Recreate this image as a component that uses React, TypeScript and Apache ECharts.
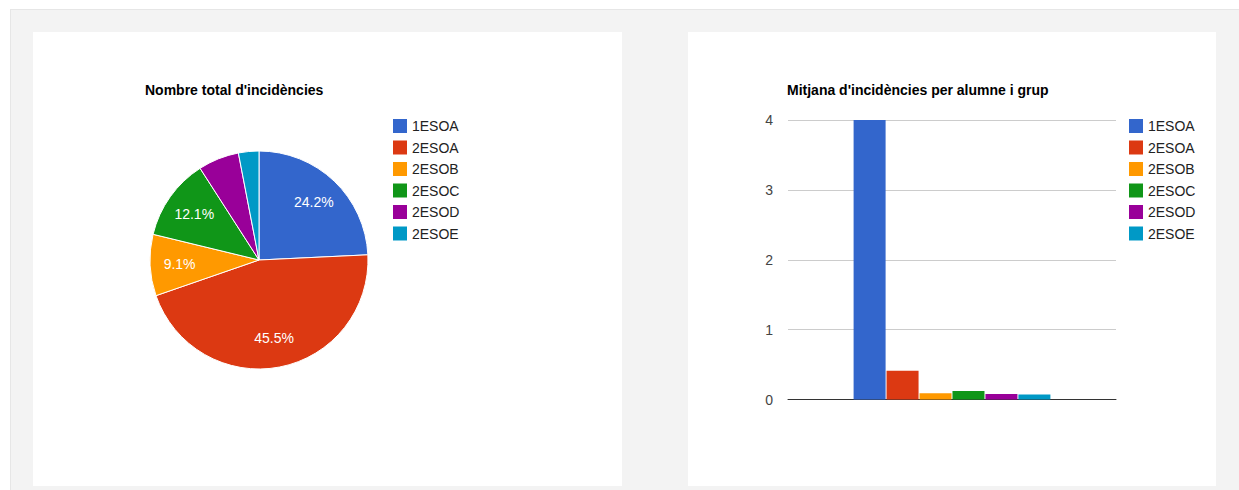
import React, { useEffect, useRef } from "react";
import * as echarts from "echarts";

const groups = ["1ESOA", "2ESOA", "2ESOB", "2ESOC", "2ESOD", "2ESOE"];
const colors = ["#3366cc", "#dc3912", "#ff9900", "#109618", "#990099", "#0099c6"];
const totalIncidences = [8, 15, 3, 4, 2, 1];
const averagePerStudent = [4, 0.41, 0.09, 0.12, 0.08, 0.07];
const yTicks = [0, 1, 2, 3, 4];

const FONT = "Arial, 'Liberation Sans', sans-serif";

export default function App() {
  const ref = useRef<HTMLDivElement>(null);
  useEffect(() => {
    if (!ref.current) return;
    const chart = echarts.init(ref.current, undefined, { renderer: "svg" });
    const total = totalIncidences.reduce((a, b) => a + b, 0);
    const legendData = groups.map((g, i) => ({ name: g, itemStyle: { color: colors[i] } }));
    const legendCommon = {
      orient: "vertical",
      top: 119,
      padding: 0,
      itemWidth: 14,
      itemHeight: 14,
      itemGap: 7.5,
      icon: "rect",
      selectedMode: false,
      textStyle: { fontFamily: FONT, fontSize: 14, color: "#222" },
      data: legendData,
    };
    chart.setOption({
      animation: false,
      graphic: [
        { type: "rect", shape: { x: 0, y: 0, width: 1239, height: 9 }, style: { fill: "#ffffff" }, z: -10 },
        { type: "rect", shape: { x: 10, y: 9, width: 1229, height: 481 }, style: { fill: "#e6e6e6" }, z: -10 },
        { type: "rect", shape: { x: 11, y: 10, width: 1228, height: 480 }, style: { fill: "#f3f3f3" }, z: -10 },
        { type: "rect", shape: { x: 33, y: 32, width: 589, height: 454 }, style: { fill: "#ffffff" }, z: -9 },
        { type: "rect", shape: { x: 688, y: 32, width: 528, height: 454 }, style: { fill: "#ffffff" }, z: -9 },
      ],
      title: [
        {
          text: "Nombre total d'incidències",
          left: 145,
          top: 83,
          padding: 0,
          textStyle: { fontFamily: FONT, fontSize: 14, fontWeight: "bold", color: "#000" },
        },
        {
          text: "Mitjana d'incidències per alumne i grup",
          left: 787,
          top: 83,
          padding: 0,
          textStyle: { fontFamily: FONT, fontSize: 14, fontWeight: "bold", color: "#000" },
        },
      ],
      legend: [
        { ...legendCommon, left: 393 },
        { ...legendCommon, left: 1129 },
      ],
      grid: { left: 788, right: 123, top: 120, bottom: 90.5 },
      xAxis: {
        type: "category",
        data: [""],
        axisLine: { show: true, lineStyle: { color: "#333", width: 1 } },
        axisTick: { show: false },
        axisLabel: { show: false },
      },
      yAxis: {
        type: "value",
        min: yTicks[0],
        max: yTicks[yTicks.length - 1],
        interval: 1,
        axisLine: { show: false },
        axisTick: { show: false },
        axisLabel: { margin: 15, fontFamily: FONT, fontSize: 14, color: "#444" },
        splitLine: { lineStyle: { color: "#cccccc", width: 1 } },
      },
      series: [
        {
          type: "pie",
          center: [259, 260],
          radius: [0, 109],
          startAngle: 90,
          clockwise: true,
          silent: true,
          label: { show: false },
          labelLine: { show: false },
          itemStyle: { borderColor: "#ffffff", borderWidth: 1 },
          emphasis: { disabled: true },
          data: groups.map((g, i) => ({ name: g, value: totalIncidences[i], itemStyle: { color: colors[i] } })),
        },
        {
          type: "pie",
          center: [259, 260],
          radius: [44, 109],
          startAngle: 90,
          clockwise: true,
          silent: true,
          legendHoverLink: false,
          labelLine: { show: false },
          emphasis: { disabled: true },
          itemStyle: { color: "rgba(0,0,0,0)", borderWidth: 0 },
          label: {
            show: true,
            position: "inside",
            fontFamily: FONT,
            fontSize: 14,
            color: "#ffffff",
            formatter: (p: any) => (p.value / total >= 0.08 ? ((p.value / total) * 100).toFixed(1) + "%" : ""),
          },
          data: groups.map((g, i) => ({ name: g, value: totalIncidences[i] })),
        },
        ...groups.map((g, i) => ({
          type: "bar",
          name: g,
          data: [averagePerStudent[i]],
          barWidth: 32,
          barGap: "3%",
          itemStyle: { color: colors[i] },
          silent: true,
        })),
      ],
    });
    return () => chart.dispose();
  }, []);
  return (
    <div
      ref={ref}
      style={{ position: "absolute", left: 0, top: 0, width: 1239, height: 490 }}
    />
  );
}
